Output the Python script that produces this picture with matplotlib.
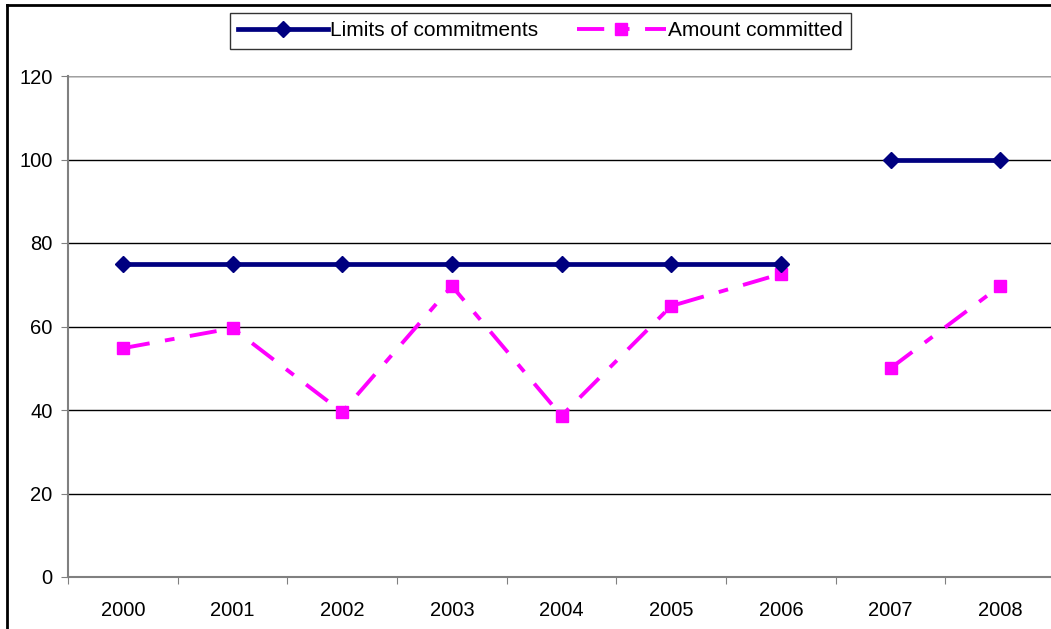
import matplotlib
matplotlib.use("Agg")
import matplotlib.pyplot as plt
from matplotlib.lines import Line2D
import numpy as np

years = ["2000", "2001", "2002", "2003", "2004", "2005", "2006", "2007", "2008"]
limits = [75, 75, 75, 75, 75, 75, 75, None, None]
limits2 = [None, None, None, None, None, None, None, 100, 100]
committed = [54.8, 59.6, 39.5, 69.7, 38.6, 64.9, 72.6, None, None]
committed2 = [None, None, None, None, None, None, None, 50, 69.7]

plt.rcParams['font.family'] = ['Liberation Sans', 'DejaVu Sans']

W, H = 1051, 629
fig = plt.figure(figsize=(W / 100, H / 100), dpi=100)
ax = fig.add_axes([68 / W, (H - 577) / H, (1055 - 68) / W, (577 - 76) / H])

x = np.arange(len(years))
lim = np.array([np.nan if v is None else v for v in limits], float)
lim2 = np.array([np.nan if v is None else v for v in limits2], float)
com = np.array([np.nan if v is None else v for v in committed], float)
com2 = np.array([np.nan if v is None else v for v in committed2], float)

navy = "#000080"
pink = "#ff00ff"
dash = (0, (7, 4, 2.5, 4))

ax.plot(x, lim, color=navy, lw=3.4, marker="D", ms=8, mfc=navy, mec=navy,
        label="Limits of commitments", zorder=4)
ax.plot(x, lim2, color=navy, lw=3.4, marker="D", ms=8, mfc=navy, mec=navy, zorder=4)
ax.plot(x, com, color=pink, lw=2.8, ls=dash, marker="s", ms=8.5, mfc=pink, mec=pink,
        label="Amount committed", zorder=3)
ax.plot(x, com2, color=pink, lw=2.8, ls=dash, marker="s", ms=8.5, mfc=pink, mec=pink, zorder=3)

ax.set_xlim(-0.5, 8.5)
ax.set_ylim(0, 120)
ax.set_yticks(range(0, 121, 20))
ax.yaxis.grid(True, color="black", lw=1)
ax.set_axisbelow(True)

ax.set_xticks(np.arange(-0.5, 9, 1))
ax.set_xticklabels([])
ax.set_xticks(x, minor=True)
ax.set_xticklabels(years, minor=True)
ax.tick_params(axis="x", which="major", direction="out", length=5, color="#808080")
ax.tick_params(axis="x", which="minor", length=0, pad=17, labelsize=14.5)
ax.tick_params(axis="y", direction="out", length=5, color="#808080", labelsize=14.5, pad=6)

for s in ["top", "right"]:
    ax.spines[s].set_visible(False)
ax.spines["left"].set_color("#808080")
ax.spines["bottom"].set_color("#808080")
ax.spines["left"].set_linewidth(1.5)
ax.spines["bottom"].set_linewidth(1.5)
ax.axhline(120, color="#a0a0a0", lw=1.5, zorder=1)

leg = fig.legend(loc="upper left", bbox_to_anchor=(230 / W, 1 - 13 / H), ncol=2,
                 fontsize=15, frameon=True, fancybox=False, edgecolor="black",
                 handlelength=4.3, handletextpad=0.1, columnspacing=1.85,
                 borderpad=0.4, borderaxespad=0)
leg.get_frame().set_linewidth(1)

fig.add_artist(Line2D([7 / W, 1], [1 - 5 / H, 1 - 5 / H], color="black", lw=2,
                      transform=fig.transFigure))
fig.add_artist(Line2D([7 / W, 7 / W], [0, 1 - 5 / H], color="black", lw=2,
                      transform=fig.transFigure))

fig.savefig("out.png", dpi=100)
